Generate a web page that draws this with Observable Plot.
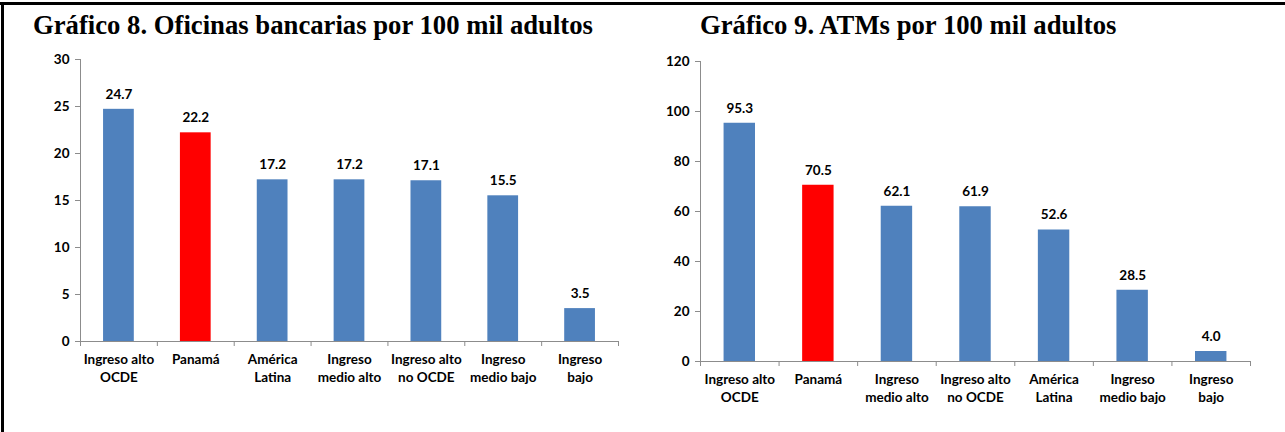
<!DOCTYPE html>
<html>
<head>
<meta charset="utf-8">
<script src="https://cdn.jsdelivr.net/npm/d3@7"></script>
<script src="https://cdn.jsdelivr.net/npm/@observablehq/plot@0.6"></script>
<style>
  html, body { margin: 0; padding: 0; background: #fff; }
  #page {
    position: relative; width: 1285px; height: 432px; overflow: hidden;
    background: #fff;
  }
  #frame-top { position: absolute; left: 0; top: 2px; width: 1285px; height: 3px; background: #000; }
  #frame-left { position: absolute; left: 1px; top: 2px; width: 3px; height: 430px; background: #000; }
  .title {
    position: absolute; font-family: "Liberation Serif", "Times New Roman", serif;
    font-weight: bold; font-size: 26.7px; line-height: 27px; color: #000; white-space: nowrap;
  }
  .chart { position: absolute; top: 0; }
</style>
</head>
<body>
<div id="page">
  <div id="frame-top"></div>
  <div id="frame-left"></div>
  <div class="title" style="left:33px; top:12px;">Gráfico 8. Oficinas bancarias por 100 mil adultos</div>
  <div class="title" style="left:700px; top:12px;">Gráfico 9. ATMs por 100 mil adultos</div>
  <div class="chart" id="c1" style="left:0px;"></div>
  <div class="chart" id="c2" style="left:640px;"></div>
</div>
<script>
// Gráfico 8: oficinas bancarias por 100 mil adultos
const branchGroups = ["Ingreso alto OCDE", "Panamá", "América Latina", "Ingreso medio alto", "Ingreso alto no OCDE", "Ingreso medio bajo", "Ingreso bajo"];
const branchLabels = ["Ingreso alto\nOCDE", "Panamá", "América\nLatina", "Ingreso\nmedio alto", "Ingreso alto\nno OCDE", "Ingreso\nmedio bajo", "Ingreso\nbajo"];
const branchValues = [24.7, 22.2, 17.2, 17.2, 17.1, 15.5, 3.5];
const branchTicks = [0, 5, 10, 15, 20, 25, 30];

// Gráfico 9: ATMs por 100 mil adultos
const atmGroups = ["Ingreso alto OCDE", "Panamá", "Ingreso medio alto", "Ingreso alto no OCDE", "América Latina", "Ingreso medio bajo", "Ingreso bajo"];
const atmLabels = ["Ingreso alto\nOCDE", "Panamá", "Ingreso\nmedio alto", "Ingreso alto\nno OCDE", "América\nLatina", "Ingreso\nmedio bajo", "Ingreso\nbajo"];
const atmValues = [95.3, 70.5, 62.1, 61.9, 52.6, 28.5, 4.0];
const atmTicks = [0, 20, 40, 60, 80, 100, 120];

const highlight = "Panamá";
const BLUE = "#4F81BD";
const RED = "#FF0000";
const AXIS = "#8c8c8c";
const FONT = 13.5;
const fmt = d3.format(".1f");

function barChart({groups, labels, values, ticks, width, height, margins}) {
  // each group occupies the unit interval [i, i + 1]; bars fill the middle 40%
  const data = groups.map((name, i) => ({name, i, label: labels[i], value: values[i]}));
  const n = groups.length;
  const bounds = d3.range(n + 1);
  const centers = d3.range(n).map(i => i + 0.5);
  return Plot.plot({
    width, height,
    marginLeft: margins.left, marginRight: margins.right,
    marginTop: margins.top, marginBottom: margins.bottom,
    x: {domain: [0, n]},
    y: {domain: [0, d3.max(ticks)]},
    style: {fontFamily: "Lato, 'Open Sans', sans-serif"},
    marks: [
      Plot.rectY(data, {
        x1: d => d.i + 0.3, x2: d => d.i + 0.7, y: "value",
        fill: d => d.name === highlight ? RED : BLUE
      }),
      Plot.text(data, {
        x: d => d.i + 0.5, y: "value", text: d => fmt(d.value),
        dy: -15, fontSize: FONT, fontWeight: "bold", fill: "#000"
      }),
      // value axis
      Plot.axisY({ticks, tickSize: 5, tickPadding: 6, stroke: AXIS, fill: "#000",
        fontSize: FONT, fontWeight: "bold", label: null}),
      Plot.ruleX([0], {stroke: AXIS}),
      // category axis: tick marks between groups, names centred under bars
      Plot.ruleY([0], {stroke: AXIS}),
      Plot.axisX({ticks: bounds, tickSize: 5, tickFormat: () => "", stroke: AXIS, label: null}),
      Plot.axisX({ticks: centers, tickSize: 0, tickPadding: 10,
        tickFormat: v => labels[Math.round(v - 0.5)], fill: "#000",
        fontSize: FONT, fontWeight: "bold", lineHeight: 1.33, label: null})
    ]
  });
}

document.getElementById("c1").append(barChart({
  groups: branchGroups, labels: branchLabels, values: branchValues, ticks: branchTicks,
  width: 640, height: 432,
  margins: {left: 80, right: 22, top: 59, bottom: 91}
}));

document.getElementById("c2").append(barChart({
  groups: atmGroups, labels: atmLabels, values: atmValues, ticks: atmTicks,
  width: 645, height: 432,
  margins: {left: 60, right: 35, top: 61, bottom: 71}
}));
</script>
</body>
</html>
